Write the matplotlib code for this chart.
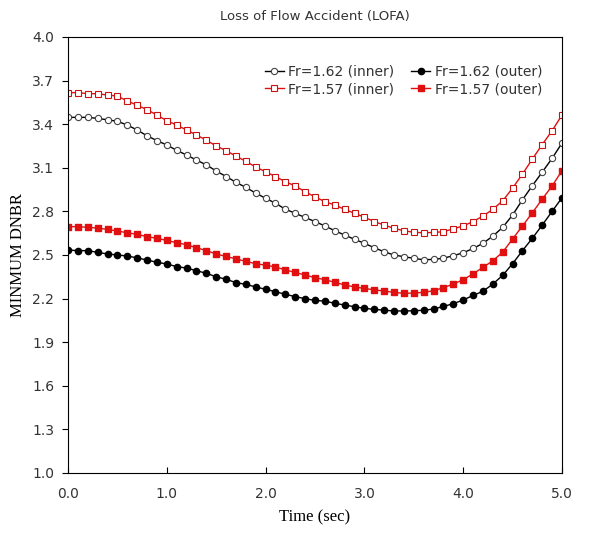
import numpy as np
import matplotlib.pyplot as plt

# time axis, 0.1 s step
t = np.round(np.arange(0, 5.01, 0.1), 1)

# Fr=1.62 (inner) - open circles
inner_162 = [3.447, 3.447, 3.447, 3.44, 3.43, 3.42, 3.394, 3.36, 3.32, 3.287,
             3.257, 3.22, 3.188, 3.153, 3.12, 3.078, 3.04, 3.0, 2.965, 2.926,
             2.89, 2.856, 2.815, 2.787, 2.758, 2.73, 2.70, 2.667, 2.637, 2.608,
             2.58, 2.55, 2.522, 2.50, 2.488, 2.477, 2.467, 2.47, 2.478, 2.495,
             2.515, 2.545, 2.58, 2.63, 2.69, 2.775, 2.88, 2.977, 3.07, 3.165,
             3.27]
# Fr=1.62 (outer) - filled circles
outer_162 = [2.534, 2.53, 2.53, 2.518, 2.507, 2.50, 2.493, 2.48, 2.465, 2.45,
             2.438, 2.42, 2.41, 2.392, 2.374, 2.35, 2.333, 2.31, 2.298, 2.28,
             2.264, 2.247, 2.23, 2.213, 2.20, 2.187, 2.183, 2.167, 2.156, 2.144,
             2.133, 2.126, 2.12, 2.115, 2.115, 2.116, 2.12, 2.128, 2.146, 2.165,
             2.19, 2.222, 2.25, 2.30, 2.36, 2.44, 2.53, 2.615, 2.706, 2.80,
             2.894]
# Fr=1.57 (inner) - open squares
inner_157 = [3.617, 3.617, 3.61, 3.61, 3.60, 3.594, 3.56, 3.53, 3.50, 3.463,
             3.424, 3.394, 3.36, 3.326, 3.29, 3.25, 3.218, 3.18, 3.145, 3.105,
             3.073, 3.039, 3.004, 2.975, 2.935, 2.90, 2.867, 2.844, 2.814, 2.787,
             2.76, 2.73, 2.706, 2.683, 2.667, 2.656, 2.653, 2.655, 2.66, 2.68,
             2.70, 2.73, 2.768, 2.814, 2.873, 2.96, 3.057, 3.16, 3.26, 3.355,
             3.463]
# Fr=1.57 (outer) - filled squares
outer_157 = [2.695, 2.695, 2.69, 2.685, 2.676, 2.665, 2.653, 2.642, 2.626, 2.615,
             2.60, 2.585, 2.57, 2.55, 2.53, 2.507, 2.49, 2.473, 2.456, 2.44,
             2.43, 2.418, 2.397, 2.38, 2.362, 2.344, 2.33, 2.312, 2.294, 2.28,
             2.27, 2.26, 2.252, 2.243, 2.236, 2.238, 2.243, 2.254, 2.275, 2.30,
             2.33, 2.37, 2.415, 2.46, 2.52, 2.61, 2.70, 2.79, 2.885, 2.975,
             3.08]

xticks = [0, 1, 2, 3, 4, 5]
yticks = [1.0, 1.3, 1.6, 1.9, 2.2, 2.5, 2.8, 3.1, 3.4, 3.7, 4.0]

fig = plt.figure(figsize=(6.09, 5.4), dpi=100)
ax = fig.add_axes([0.1117, 0.1241, 0.8111, 0.8074])

ms = 4.5
l1, = ax.plot(t, inner_162, '-o', color='black', lw=1, ms=ms, mfc='white', mec='#444444',
              mew=0.8, label='Fr=1.62 (inner)')
l2, = ax.plot(t, outer_162, '-o', color='black', lw=1, ms=ms, label='Fr=1.62 (outer)')
l3, = ax.plot(t, inner_157, '-s', color='#e01010', lw=1, ms=ms, mfc='white', mec='#cc1111',
              mew=0.8, label='Fr=1.57 (inner)')
l4, = ax.plot(t, outer_157, '-s', color='#e01010', lw=1, ms=ms, label='Fr=1.57 (outer)')

ax.set_xlim(0, 5)
ax.set_ylim(1.0, 4.0)
ax.set_xticks(xticks)
ax.set_xticklabels(['%.1f' % v for v in xticks])
ax.set_yticks(yticks)
ax.set_yticklabels(['%.1f' % v for v in yticks])
ax.tick_params(axis='x', direction='in', length=4, labelsize=10, labelcolor='#333333', pad=10)
ax.tick_params(axis='y', direction='out', length=4, labelsize=10, labelcolor='#333333', pad=6)

ax.set_xlabel('Time (sec)', family='Liberation Serif', fontsize=12, labelpad=6)
ax.set_ylabel('MINMUM DNBR', family='Liberation Serif', fontsize=12, labelpad=4)
ax.set_title('Loss of Flow Accident (LOFA)', fontsize=9.5, color='#333333', pad=12)

# legend is filled column-wise, so order gives rows: 1.62 pair then 1.57 pair
ax.legend([l1, l3, l2, l4], [l1.get_label(), l3.get_label(), l2.get_label(), l4.get_label()],
          ncol=2, loc='upper right', bbox_to_anchor=(0.985, 0.965), frameon=False,
          fontsize=10, handlelength=1.4, handletextpad=0.3, columnspacing=1.2,
          labelspacing=0.25, labelcolor='#333333')

fig.savefig('out.png', dpi=100)
